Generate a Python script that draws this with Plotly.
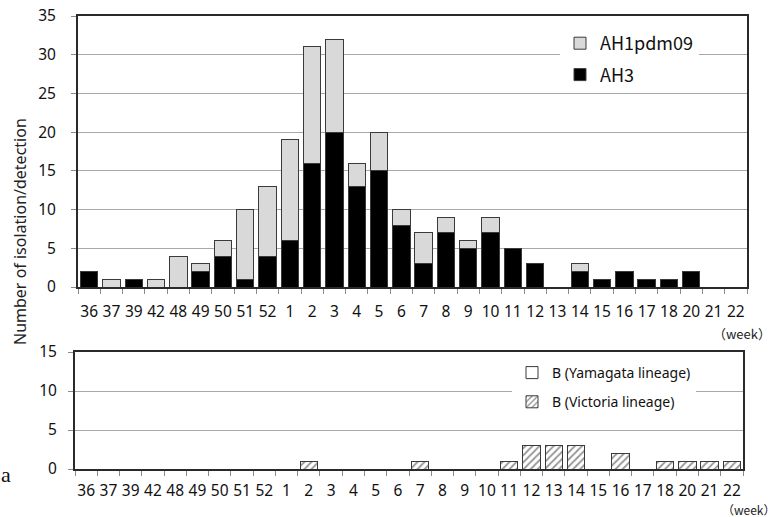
import plotly.graph_objects as go

weeks = ["36", "37", "39", "42", "48", "49", "50", "51", "52", "1", "2", "3", "4", "5", "6",
         "7", "8", "9", "10", "11", "12", "13", "14", "15", "16", "17", "18", "20", "21", "22"]
ah3 = [2, 0, 1, 0, 0, 2, 4, 1, 4, 6, 16, 20, 13, 15, 8, 3, 7, 5, 7, 5, 3, 0, 2, 1, 2, 1, 1, 2, 0, 0]
ah1pdm09 = [0, 1, 0, 1, 4, 1, 2, 9, 9, 13, 15, 12, 3, 5, 2, 4, 2, 1, 2, 0, 0, 0, 1, 0, 0, 0, 0, 0, 0, 0]
b_yamagata = [0] * 30
b_victoria = [0, 0, 0, 0, 0, 0, 0, 0, 0, 0, 1, 0, 0, 0, 0, 1, 0, 0, 0, 1, 3, 3, 3, 0, 2, 0, 1, 1, 1, 1]
top_yticks = [0, 5, 10, 15, 20, 25, 30, 35]
bottom_yticks = [0, 5, 10, 15]


def nz(values):
    # zero counts are not drawn as bars
    return [v if v else None for v in values]


W, H = 782, 517

fig = go.Figure()
edge = dict(color="#3a3a3a", width=1)

fig.add_trace(go.Bar(x=weeks, y=nz(ah3), name="AH3", marker=dict(color="#000000", line=edge),
                     xaxis="x", yaxis="y", legend="legend", legendgroup="a", legendrank=2))
fig.add_trace(go.Bar(x=weeks, y=nz(ah1pdm09), name="AH1pdm09",
                     marker=dict(color="#d9d9d9", line=edge),
                     xaxis="x", yaxis="y", legend="legend", legendgroup="b", legendrank=1))
fig.add_trace(go.Bar(x=weeks, y=nz(b_yamagata), name="B (Yamagata lineage)",
                     marker=dict(color="#ffffff", line=edge),
                     xaxis="x2", yaxis="y2", legend="legend2", legendgroup="c"))
fig.add_trace(go.Bar(x=weeks, y=nz(b_victoria), name="B (Victoria lineage)",
                     marker=dict(color="#ffffff", line=edge,
                                 pattern=dict(shape="/", fgcolor="#2a2a2a", bgcolor="#ffffff",
                                              size=5, solidity=0.35)),
                     xaxis="x2", yaxis="y2", legend="legend2", legendgroup="d"))

tickfont = dict(family="Noto Sans", size=15.5, color="#111111")
xcommon = dict(type="category", categoryorder="array", categoryarray=weeks,
               showline=True, linecolor="#2a2a2a", linewidth=2, mirror=True,
               ticks="outside", tickson="boundaries", ticklen=5, tickcolor="#8a8a8a",
               tickfont=tickfont, tickangle=0, showgrid=False, fixedrange=True,
               automargin=False)
ycommon = dict(showline=True, linecolor="#2a2a2a", linewidth=2, mirror=True,
               ticks="outside", ticklen=5, tickcolor="#8a8a8a", tickfont=tickfont,
               showgrid=True, gridcolor="#a8a8a8", gridwidth=1, zeroline=False,
               fixedrange=True, automargin=False)

fig.update_layout(
    width=W, height=H,
    margin=dict(l=0, r=0, t=0, b=0, autoexpand=False),
    paper_bgcolor="white", plot_bgcolor="white",
    barmode="stack", bargap=0.22,
    xaxis=dict(domain=[78 / W, 747 / W], anchor="y", ticklabelstandoff=9, **xcommon),
    yaxis=dict(domain=[(H - 287) / H, (H - 16) / H], anchor="x", range=[0, 35],
               tickvals=top_yticks, ticklabelstandoff=12, **ycommon),
    xaxis2=dict(domain=[75 / W, 743 / W], anchor="y2", ticklabelstandoff=6, **xcommon),
    yaxis2=dict(domain=[(H - 469) / H, (H - 352) / H], anchor="x2", range=[0, 15],
                tickvals=bottom_yticks, ticklabelstandoff=8, **ycommon),
    legend=dict(x=560 / W, y=(H - 25) / H, xanchor="left", yanchor="top",
                bgcolor="white", traceorder="grouped", tracegroupgap=5,
                font=dict(family="Noto Sans CJK JP", size=18, color="#111111")),
    legend2=dict(x=512 / W, y=(H - 357) / H, xanchor="left", yanchor="top",
                 bgcolor="white", traceorder="grouped", tracegroupgap=8,
                 font=dict(family="Noto Sans", size=14, color="#111111")),
    showlegend=True,
)

fig.add_annotation(text="Number of isolation/detection", x=20 / W, y=(H - 232) / H,
                   xref="paper", yref="paper", xanchor="center", yanchor="middle",
                   textangle=-90, showarrow=False,
                   font=dict(family="Noto Sans", size=16, color="#222222"))
fig.add_annotation(text="（week）", x=742 / W, y=(H - 333) / H, xref="paper", yref="paper",
                   xanchor="center", yanchor="middle", showarrow=False,
                   font=dict(family="Noto Sans CJK JP", size=13, color="#222222"))
fig.add_annotation(text="（week）", x=749 / W, y=(H - 509) / H, xref="paper", yref="paper",
                   xanchor="center", yanchor="middle", showarrow=False, borderpad=0,
                   font=dict(family="Noto Sans CJK JP", size=12, color="#222222"))
fig.add_annotation(text="a", x=0, y=(H - 474) / H, xref="paper", yref="paper",
                   xanchor="left", yanchor="middle", showarrow=False, borderpad=0,
                   font=dict(family="Liberation Serif", size=22, color="#111111"))

fig.write_html("out.html", config={"displayModeBar": False},
               post_script="document.body.style.margin='0';")
